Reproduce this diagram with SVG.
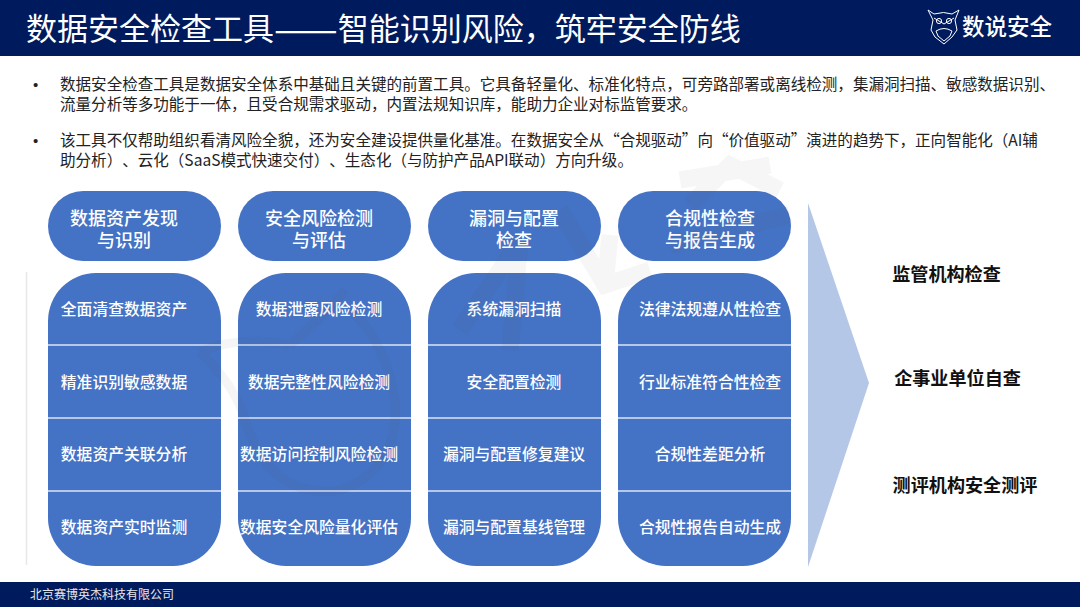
<svg xmlns="http://www.w3.org/2000/svg" width="1080" height="607" viewBox="0 0 1080 607">
<defs><style>
text{font-family:"Noto Sans CJK SC","Noto Sans",sans-serif;text-spacing-trim:space-all}
.bar{fill:#001a5e}
.title{font-size:31px;fill:#fff;font-weight:400}
.body{font-size:15.55px;fill:#222}
.dot{font-size:15px;fill:#222;font-family:"Liberation Sans",sans-serif}
.blue{fill:#4472c4}
.h{font-size:18px;fill:#fff;font-weight:500;text-anchor:middle}
.c{font-size:15.8px;fill:#fff;font-weight:500;text-anchor:middle}
.div{stroke:#dbe3f3;stroke-width:1.5}
.r{font-size:18.1px;fill:#111;font-weight:700;text-anchor:middle}
.wm{fill:none;stroke:#555;stroke-opacity:.06;stroke-width:9}
.wt{fill:none;stroke:#555;stroke-opacity:.05;stroke-width:17}
</style></defs>
<rect width="1080" height="607" fill="#fff"/>
<g id="header"><rect class="bar" width="1080" height="56"/>
<text class="title" x="26" y="40">数据安全检查工具<tspan font-size="38" dy="2.500">——</tspan><tspan dy="-2.500">智能识别风险，筑牢安全防线</tspan></text>
<g id="logo" fill="none" stroke="#fff" stroke-width="1">
<path d="M928 10 L934 14 Q944 11 952 14 L959 10 L955 20 L957 30 L952 37 L944 44 L935 37 L931 30 L933 20 Z"/>
<path d="M934 18 L944 24 L954 18 M936 31 Q944 26 952 31 L950 36 L944 41 L938 36 Z"/>
<circle cx="939" cy="21" r="2.6"/><circle cx="949" cy="21" r="2.6"/>
</g>
<text x="962" y="35" font-size="22.5" font-weight="500" fill="#fff">数说安全</text>
</g>
<g id="intro">
<text class="dot" x="33" y="90">•</text>
<text class="body" x="60" y="90">数据安全检查工具是数据安全体系中基础且关键的前置工具。它具备轻量化、标准化特点，可旁路部署或离线检测，集漏洞扫描、敏感数据识别、</text>
<text class="body" x="60" y="110">流量分析等多功能于一体，且受合规需求驱动，内置法规知识库，能助力企业对标监管要求。</text>
<text class="dot" x="33" y="146">•</text>
<text class="body" x="60" y="146">该工具不仅帮助组织看清风险全貌，还为安全建设提供量化基准。在数据安全从“合规驱动”向“价值驱动”演进的趋势下，正向智能化（AI辅</text>
<text class="body" x="60" y="166">助分析）、云化（SaaS模式快速交付）、生态化（与防护产品API联动）方向升级。</text>
</g>
<g id="col1">
<rect class="blue" x="48" y="191" width="173" height="70" rx="35"/>
<text class="h" x="124" y="225">数据资产发现<tspan x="124" dy="22">与识别</tspan></text>
<path class="blue" d="M48 321a48 48 0 0 1 48-48h77a48 48 0 0 1 48 48v197a48 48 0 0 1-48 48h-77a48 48 0 0 1-48-48z"/>
<path class="div" d="M48 345H221M48 418H221M48 491H221"/>
<text class="c" x="124" y="315">全面清查数据资产</text><text class="c" x="124" y="388">精准识别敏感数据</text><text class="c" x="124" y="460">数据资产关联分析</text><text class="c" x="124" y="533">数据资产实时监测</text>
</g>
<g id="col2">
<rect class="blue" x="238" y="191" width="173" height="70" rx="35"/>
<text class="h" x="319" y="225">安全风险检测<tspan x="319" dy="22">与评估</tspan></text>
<path class="blue" d="M238 321a48 48 0 0 1 48-48h77a48 48 0 0 1 48 48v197a48 48 0 0 1-48 48h-77a48 48 0 0 1-48-48z"/>
<path class="div" d="M238 345H411M238 418H411M238 491H411"/>
<text class="c" x="319" y="315">数据泄露风险检测</text><text class="c" x="319" y="388">数据完整性风险检测</text><text class="c" x="319" y="460">数据访问控制风险检测</text><text class="c" x="319" y="533">数据安全风险量化评估</text>
</g>
<g id="col3">
<rect class="blue" x="428" y="191" width="173" height="70" rx="35"/>
<text class="h" x="514" y="225">漏洞与配置<tspan x="514" dy="22">检查</tspan></text>
<path class="blue" d="M428 321a48 48 0 0 1 48-48h77a48 48 0 0 1 48 48v197a48 48 0 0 1-48 48h-77a48 48 0 0 1-48-48z"/>
<path class="div" d="M428 345H601M428 418H601M428 491H601"/>
<text class="c" x="514" y="315">系统漏洞扫描</text><text class="c" x="514" y="388">安全配置检测</text><text class="c" x="514" y="460">漏洞与配置修复建议</text><text class="c" x="514" y="533">漏洞与配置基线管理</text>
</g>
<g id="col4">
<rect class="blue" x="618" y="191" width="173" height="70" rx="35"/>
<text class="h" x="710" y="225">合规性检查<tspan x="710" dy="22">与报告生成</tspan></text>
<path class="blue" d="M618 321a48 48 0 0 1 48-48h77a48 48 0 0 1 48 48v197a48 48 0 0 1-48 48h-77a48 48 0 0 1-48-48z"/>
<path class="div" d="M618 345H791M618 418H791M618 491H791"/>
<text class="c" x="710" y="315">法律法规遵从性检查</text><text class="c" x="710" y="388">行业标准符合性检查</text><text class="c" x="710" y="460">合规性差距分析</text><text class="c" x="710" y="533">合规性报告自动生成</text>
</g>
<polygon id="arrow" points="808,203 869,383 808,567" fill="#b4c7e7"/>
<g id="targets">
<text class="r" x="946.500" y="281">监管机构检查</text>
<text class="r" x="957.500" y="385">企事业单位自查</text>
<text class="r" x="965" y="492">测评机构安全测评</text>
</g>
<g id="watermark">
<path d="M26.500 272V565" stroke="#e8e8e8" stroke-width="1.500"/>
<path class="wm" d="M200 352 Q240 335 290 345 M200 352 Q235 385 245 420 M245 420 Q270 500 340 490 Q400 470 395 400 Q385 340 350 310 M290 345 Q330 310 345 290"/>
<path class="wt" d="M460 330 L520 240 L510 350 M560 210 L605 285 L650 270 M610 235 L605 285 M690 205 L730 165 L780 190 M680 180 L770 165 M670 245 L790 215"/>
</g>
<g id="footer"><rect class="bar" y="582" width="1080" height="25"/>
<text x="30" y="599" font-size="12" fill="#e8e8e8">北京赛博英杰科技有限公司</text></g>
</svg>
